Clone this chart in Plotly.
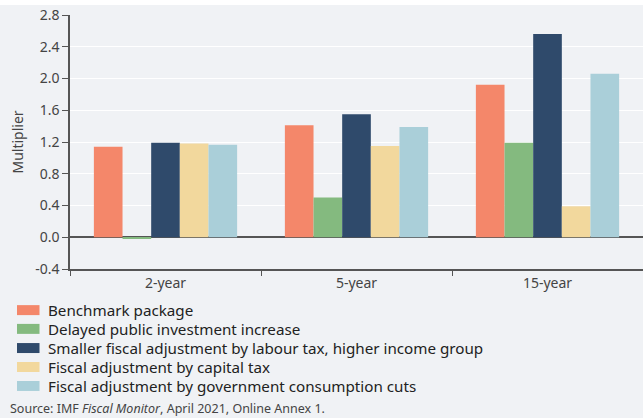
import plotly.graph_objects as go

categories = ["2-year", "5-year", "15-year"]
series_names = [
    "Benchmark package",
    "Delayed public investment increase",
    "Smaller fiscal adjustment by labour tax, higher income group",
    "Fiscal adjustment by capital tax",
    "Fiscal adjustment by government consumption cuts",
]
benchmark = [1.14, 1.41, 1.92]
delayed_investment = [-0.02, 0.50, 1.19]
labour_tax = [1.19, 1.55, 2.56]
capital_tax = [1.18, 1.15, 0.39]
consumption_cuts = [1.165, 1.39, 2.06]
series_values = [benchmark, delayed_investment, labour_tax, capital_tax, consumption_cuts]
colors = ["#F4876A", "#84BA7F", "#2F4A6B", "#F2D89D", "#AACFD9"]
y_ticks = [-0.4, 0.0, 0.4, 0.8, 1.2, 1.6, 2.0, 2.4, 2.8]
y_tick_labels = ["-0.4", "0.0", "0.4", "0.8", "1.2", "1.6", "2.0", "2.4", "2.8"]

BG = "#F0F2F5"
FONT = "Noto Sans"

fig = go.Figure()
for name, vals, c in zip(series_names, series_values, colors):
    fig.add_trace(go.Bar(x=categories, y=vals, name=name, marker=dict(color=c, line=dict(width=0)),
                         showlegend=False))

W, H = 643, 418
ml, mr, mt, mb = 70, 0, 15, 148.5
ph = H - mt - mb

def py(pix):
    return (H - mb - pix) / ph

def px(pix):
    return (pix - ml) / (W - ml - mr)

shapes = [
    dict(type="rect", xref="paper", yref="paper", x0=px(0), x1=px(W), y0=py(5), y1=py(-2),
         fillcolor="white", line=dict(width=0), layer="below"),
]
annotations = []
row_y = [310.7, 329.5, 348.7, 367.7, 386.7]
for name, c, yy in zip(series_names, colors, row_y):
    shapes.append(dict(type="rect", xref="paper", yref="paper", x0=px(17), x1=px(39.5),
                       y0=py(yy + 5), y1=py(yy - 5), fillcolor=c, line=dict(width=0)))
    annotations.append(dict(xref="paper", yref="paper", x=px(46), y=py(yy), text=name,
                            showarrow=False, xanchor="left", yanchor="middle",
                            font=dict(family=FONT, size=15.2, color="#222222")))
annotations.append(dict(xref="paper", yref="paper", x=px(8), y=py(409.5),
                        text="Source: IMF <i>Fiscal Monitor</i>, April 2021, Online Annex 1.",
                        showarrow=False, xanchor="left", yanchor="middle",
                        font=dict(family=FONT, size=12.5, color="#444444")))

fig.update_layout(
    width=W, height=H,
    margin=dict(l=ml, r=mr, t=mt, b=mb, pad=0, autoexpand=False),
    paper_bgcolor=BG, plot_bgcolor=BG,
    barmode="group", bargap=0.25, bargroupgap=0,
    font=dict(family=FONT, size=14, color="#444444"),
    shapes=shapes, annotations=annotations,
    xaxis=dict(showline=True, linecolor="#555555", linewidth=1.5, ticks="outside",
               tickson="boundaries", ticklen=5, tickcolor="#555555", showgrid=False,
               automargin=False, tickfont=dict(size=14, color="#444444")),
    yaxis=dict(range=[-0.4, 2.8], tickvals=y_ticks, ticktext=y_tick_labels, showline=True,
               linecolor="#555555", linewidth=1.5, ticks="outside", ticklen=6,
               tickcolor="#555555", gridcolor="white", gridwidth=1.2,
               zeroline=True, zerolinecolor="#555555", zerolinewidth=1.5, automargin=False,
               title=dict(text="Multiplier", font=dict(size=14, color="#444444"), standoff=8),
               tickfont=dict(size=14, color="#444444")),
)

fig.write_html("out.html", config={"displayModeBar": False},
               post_script="document.body.style.margin='0';document.body.style.padding='0';")
